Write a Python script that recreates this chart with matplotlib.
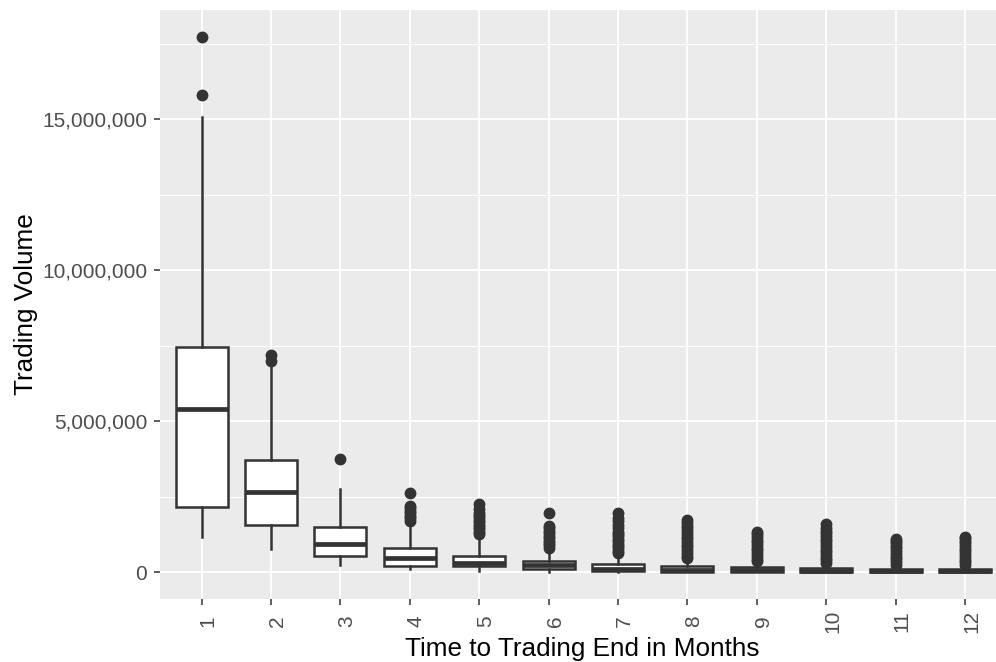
import numpy as np
import matplotlib
matplotlib.use("Agg")
import matplotlib.pyplot as plt
import matplotlib.ticker as mticker
import matplotlib.transforms as mtransforms

plt.rcParams['font.family'] = ['Liberation Sans', 'DejaVu Sans']

# box statistics, in millions
months = [1, 2, 3, 4, 5, 6, 7, 8, 9, 10, 11, 12]
whislo = [1.18, 0.76, 0.24, 0.11, 0.05, 0.02, 0.01, 0.00, 0.00, 0.00, 0.00, 0.00]
q1 = [2.15, 1.56, 0.55, 0.22, 0.19, 0.11, 0.03, 0.02, 0.01, 0.01, 0.01, 0.01]
med = [5.40, 2.64, 0.95, 0.48, 0.32, 0.25, 0.12, 0.09, 0.06, 0.05, 0.04, 0.04]
q3 = [7.45, 3.70, 1.49, 0.81, 0.55, 0.38, 0.27, 0.21, 0.17, 0.13, 0.12, 0.11]
whishi = [15.09, 6.82, 2.75, 1.55, 1.15, 0.72, 0.52, 0.42, 0.34, 0.28, 0.24, 0.23]

# outliers (millions)
fliers = [
    [15.79, 17.73],
    [6.98, 7.20],
    [3.76],
    [1.70, 1.78, 1.86, 1.95, 2.03, 2.12, 2.20, 2.62],
    [1.26, 1.34, 1.42, 1.50, 1.58, 1.66, 1.74, 1.82, 1.90, 1.97, 2.08, 2.26],
    [0.81, 0.89, 0.97, 1.05, 1.13, 1.21, 1.29, 1.37, 1.46, 1.54, 1.95],
    [0.63, 0.71, 0.79, 0.87, 0.95, 1.03, 1.11, 1.19, 1.27, 1.34, 1.45, 1.55, 1.71, 1.80, 1.97],
    [0.46, 0.55, 0.64, 0.73, 0.82, 0.91, 1.00, 1.09, 1.18, 1.27, 1.36, 1.45, 1.54, 1.63, 1.73],
    [0.36, 0.45, 0.54, 0.63, 0.72, 0.81, 0.90, 0.99, 1.08, 1.17, 1.26, 1.34],
    [0.30, 0.39, 0.48, 0.57, 0.66, 0.75, 0.84, 0.93, 1.02, 1.11, 1.20, 1.29, 1.38, 1.47, 1.60],
    [0.25, 0.34, 0.43, 0.52, 0.61, 0.70, 0.79, 0.88, 0.97, 1.04, 1.10],
    [0.24, 0.33, 0.42, 0.51, 0.60, 0.69, 0.78, 0.87, 0.96, 1.05, 1.12, 1.17],
]

M = 1e6
stats = []
for i in range(len(months)):
    stats.append(dict(med=med[i] * M, q1=q1[i] * M, q3=q3[i] * M,
                      whislo=whislo[i] * M, whishi=whishi[i] * M,
                      fliers=np.array(fliers[i]) * M, label=str(months[i])))

fig = plt.figure(figsize=(9.96, 6.62), dpi=100)
# panel runs past the right edge, as in the (cropped) original
ax = fig.add_axes([160 / 996, 1 - 599 / 662, (1006.6 - 160) / 996, 589 / 662])
ax.set_facecolor('#EBEBEB')
for s in ax.spines.values():
    s.set_visible(False)

dark = '#333333'
ax.bxp(stats, positions=months, widths=0.75, patch_artist=True, showcaps=False,
       boxprops=dict(facecolor='white', edgecolor=dark, linewidth=1.8),
       whiskerprops=dict(color=dark, linewidth=1.8),
       medianprops=dict(color=dark, linewidth=3.4, solid_capstyle='butt'),
       flierprops=dict(marker='o', markerfacecolor=dark, markeredgecolor=dark,
                       markersize=7.5, linestyle='none'),
       zorder=3)

# ggplot-style limits (5% expansion on y, 0.6 on discrete x)
lo = min(whislo) * M
hi = max(max(f) for f in fliers) * M
rng = hi - lo
ax.set_ylim(lo - 0.05 * rng, hi + 0.05 * rng)
ax.set_xlim(0.4, 12.6)

ax.yaxis.set_major_locator(mticker.FixedLocator([0, 5e6, 10e6, 15e6]))
ax.yaxis.set_minor_locator(mticker.FixedLocator([2.5e6, 7.5e6, 12.5e6, 17.5e6]))
ax.yaxis.set_major_formatter(mticker.FuncFormatter(lambda v, p: f'{v:,.0f}'))
ax.set_xticks(months)
ax.set_xticklabels([str(m) for m in months])

ax.grid(which='major', color='white', linewidth=1.3, zorder=0)
ax.grid(which='minor', axis='y', color='white', linewidth=0.7, zorder=0)
ax.set_axisbelow(True)

ax.tick_params(axis='both', which='major', direction='out', length=4.3, width=1.1,
               color=dark, labelcolor='#4D4D4D', labelsize=15)
ax.tick_params(axis='y', which='minor', length=0)
ax.tick_params(axis='y', pad=5)
ax.tick_params(axis='x', pad=11.5)
offset = mtransforms.ScaledTranslation(-3 / 100, 0, fig.dpi_scale_trans)
for lab in ax.get_xticklabels():
    lab.set_rotation(90)
    lab.set_ha('left')
    lab.set_va('center')
    lab.set_transform(lab.get_transform() + offset)

ax.set_xlabel('Time to Trading End in Months', fontsize=18.8, color='black')
ax.set_ylabel('Trading Volume', fontsize=18.8, color='black')
ax.xaxis.set_label_coords((582 - 160) / 846.6, -0.0645)
ax.yaxis.set_label_coords(-0.144, 0.5)

fig.savefig('out.png', dpi=100)
